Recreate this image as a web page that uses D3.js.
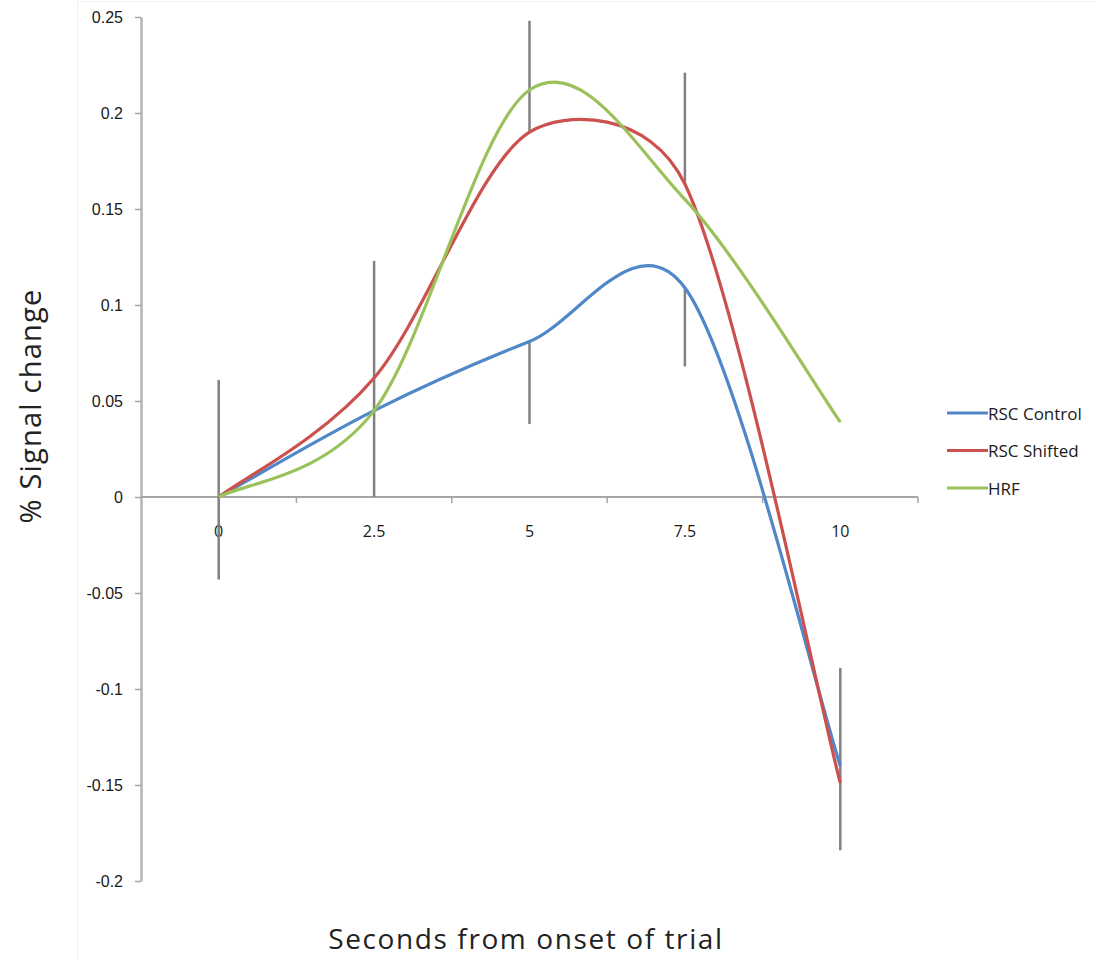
<!DOCTYPE html>
<html>
<head>
<meta charset="utf-8">
<script src="https://cdn.jsdelivr.net/npm/d3@7"></script>
<style>
  body { margin: 0; background: #fff; }
  svg { display: block; font-family: "Open Sans", sans-serif; }
</style>
</head>
<body>
<svg id="chart" width="1095" height="959"></svg>
<script>
// Data
const categories = ["0", "2.5", "5", "7.5", "10"];
const rscControl = [0, 0.045, 0.081, 0.109, -0.140];
const rscShifted = [0, 0.062, 0.190, 0.163, -0.149];
const hrf        = [0, 0.045, 0.212, 0.155, 0.039];

// error bar segments (category, low, high)
const errCats = ["0", "2.5", "5", "5", "7.5", "7.5", "10"];
const errLow  = [-0.043, 0.000, 0.190, 0.038, 0.163, 0.068, -0.184];
const errHigh = [0.061, 0.123, 0.248, 0.081, 0.221, 0.109, -0.089];

const yTicks = [0.25, 0.2, 0.15, 0.1, 0.05, 0, -0.05, -0.1, -0.15, -0.2];

const seriesNames = ["RSC Control", "RSC Shifted", "HRF"];
const seriesValues = [rscControl, rscShifted, hrf];
const seriesColors = ["#4f87c8", "#cc514e", "#9bc25a"];

const svg = d3.select("#chart");

// Scales
const x = d3.scaleBand().domain(categories).range([141, 918]);
const xc = c => x(c) + x.bandwidth() / 2;
const y = d3.scaleLinear().domain([-0.2, 0.25]).range([881, 17]);

// Spreadsheet-style smoothing: bezier with 1/6 tangents, clamped to half a segment
function smoothCurve(context) {
    let pts;
    const dist = (a, b) => Math.hypot(b[0] - a[0], b[1] - a[1]);
    return {
        areaStart() {}, areaEnd() {},
        lineStart() { pts = []; },
        point(px, py) { pts.push([+px, +py]); },
        lineEnd() {
            const n = pts.length;
            if (!n) return;
            context.moveTo(pts[0][0], pts[0][1]);
            for (let i = 0; i < n - 1; i++) {
                const p1 = pts[i], p2 = pts[i + 1];
                const p0 = pts[i - 1] || p1, p3 = pts[i + 2] || p2;
                const d12 = dist(p1, p2), d02 = dist(p0, p2), d13 = dist(p1, p3);
                let f = 1 / 6;
                if (d02 / 6 >= d12 / 2) f = Math.min(f, d12 / 2 / d02);
                if (d13 / 6 >= d12 / 2) f = Math.min(f, d12 / 2 / d13);
                context.bezierCurveTo(
                    p1[0] + (p2[0] - p0[0]) * f, p1[1] + (p2[1] - p0[1]) * f,
                    p2[0] - (p3[0] - p1[0]) * f, p2[1] - (p3[1] - p1[1]) * f,
                    p2[0], p2[1]);
            }
        }
    };
}

// faint plot area border
svg.append("path")
    .attr("d", "M77.5,959 V1.5 H1095")
    .attr("fill", "none")
    .attr("stroke", "#f0f0f0")
    .attr("stroke-width", 1);

// Y axis
const yAxis = svg.append("g")
    .attr("transform", "translate(141,0)")
    .call(d3.axisLeft(y)
        .tickValues(yTicks)
        .tickSizeInner(6)
        .tickSizeOuter(0)
        .tickPadding(12)
        .tickFormat(d => String(+d.toFixed(2))));
yAxis.select(".domain").attr("stroke", "#b3b3b3").attr("stroke-width", 2.5);
yAxis.selectAll(".tick line").attr("stroke", "#a6a6a6").attr("stroke-width", 1.5);
yAxis.selectAll(".tick text")
    .attr("fill", "#1a1a1a")
    .style("font-size", "16px");

// X axis line and boundary ticks
const x0 = y(0);
svg.append("line")
    .attr("x1", 141).attr("x2", 918)
    .attr("y1", x0).attr("y2", x0)
    .attr("stroke", "#a6a6a6")
    .attr("stroke-width", 2);

svg.append("g").selectAll("line")
    .data(categories.map(c => x(c) + x.bandwidth()))
    .enter().append("line")
    .attr("x1", d => d).attr("x2", d => d)
    .attr("y1", x0).attr("y2", x0 + 6)
    .attr("stroke", "#a6a6a6")
    .attr("stroke-width", 1.5);

svg.append("g").selectAll("text")
    .data(categories)
    .enter().append("text")
    .attr("x", d => xc(d))
    .attr("y", x0 + 34)
    .attr("text-anchor", "middle")
    .attr("dominant-baseline", "central")
    .attr("fill", "#1a1a1a")
    .style("font-size", "16px")
    .text(d => d);

// Error bars (behind the lines)
svg.append("g").selectAll("line")
    .data(errCats.map((c, i) => ({ c, lo: errLow[i], hi: errHigh[i] })))
    .enter().append("line")
    .attr("x1", d => xc(d.c)).attr("x2", d => xc(d.c))
    .attr("y1", d => y(d.lo)).attr("y2", d => y(d.hi))
    .attr("stroke", "#808080")
    .attr("stroke-width", 2.5);

// Smoothed series lines
const line = d3.line()
    .x(d => xc(d.c))
    .y(d => y(d.v))
    .curve(smoothCurve);

seriesValues.forEach((vals, i) => {
    svg.append("path")
        .datum(vals.map((v, j) => ({ c: categories[j], v })))
        .attr("d", line)
        .attr("fill", "none")
        .attr("stroke", seriesColors[i])
        .attr("stroke-width", 3.2)
        .attr("stroke-linejoin", "round");
});

// Legend
const legend = svg.append("g").selectAll("g")
    .data(seriesNames)
    .enter().append("g")
    .attr("transform", (d, i) => `translate(947,${413 + i * 37.5})`);
legend.append("line")
    .attr("x1", 0).attr("x2", 41)
    .attr("stroke", (d, i) => seriesColors[i])
    .attr("stroke-width", 3);
legend.append("text")
    .attr("x", 41)
    .attr("dominant-baseline", "central")
    .attr("fill", "#1a1a1a")
    .style("font-size", "17px")
    .text(d => d);

// Axis titles
svg.append("text")
    .attr("x", 526)
    .attr("y", 938)
    .attr("text-anchor", "middle")
    .attr("dominant-baseline", "central")
    .attr("fill", "#222")
    .style("font-size", "28px")
    .style("letter-spacing", "1.6px")
    .text("Seconds from onset of trial");

svg.append("text")
    .attr("transform", "translate(29,406) rotate(-90)")
    .attr("text-anchor", "middle")
    .attr("dominant-baseline", "central")
    .attr("fill", "#222")
    .style("font-size", "29px")
    .style("letter-spacing", "1.2px")
    .text("% Signal change");
</script>
</body>
</html>
